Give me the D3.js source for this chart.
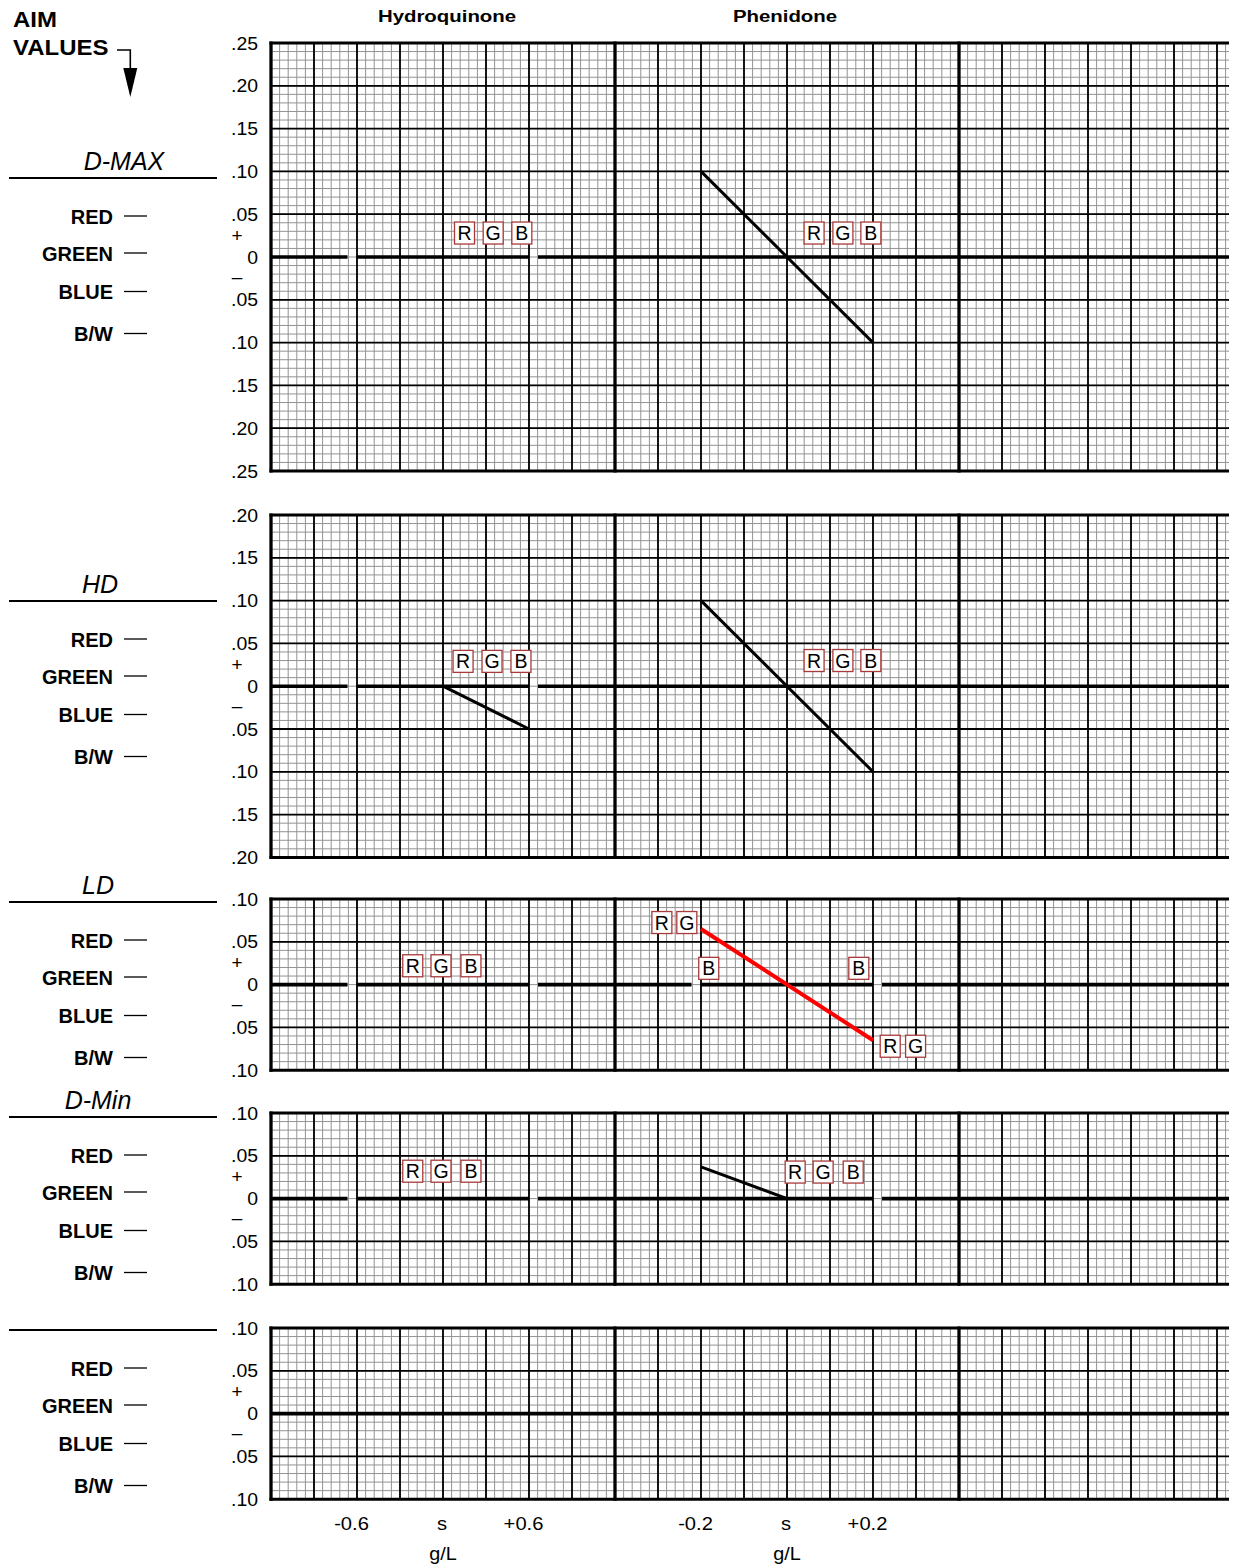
<!DOCTYPE html>
<html><head><meta charset="utf-8">
<script src="https://cdn.jsdelivr.net/npm/d3@7"></script>
<style>
html,body{margin:0;padding:0;background:#fff;}
svg{display:block;}
text{font-family:"Liberation Sans",Arial,Helvetica,sans-serif;fill:#000;}
</style>
</head><body>
<svg id="chart" width="1235" height="1568"></svg>
<script>
// ---------------- DATA ----------------
const columnTitles = ["Hydroquinone", "Phenidone"];
const panelNames = ["D-MAX", "HD", "LD", "D-Min", ""];
const panelExtents = [0.25, 0.20, 0.10, 0.10, 0.10];
const channelLabels = ["RED", "GREEN", "BLUE", "B/W"];
const hydroTicks = [-0.6, 0, 0.6];
const hydroTickLabels = ["-0.6", "s", "+0.6"];
const phenTicks = [-0.2, 0, 0.2];
const phenTickLabels = ["-0.2", "s", "+0.2"];
const unitLabel = "g/L";
const aimTitle = ["AIM", "VALUES"];

const aimLines = [
  {panel: 0, agent: "phen",  color: "black", points: [[-0.2, 0.10], [0.2, -0.10]]},
  {panel: 1, agent: "hydro", color: "black", points: [[0, 0], [0.6, -0.05]]},
  {panel: 1, agent: "phen",  color: "black", points: [[-0.2, 0.10], [0.2, -0.10]]},
  {panel: 2, agent: "phen",  color: "red",   points: [[-0.2, 0.065], [0.2, -0.065]]},
  {panel: 3, agent: "phen",  color: "black", points: [[-0.2, 0.037], [0, 0]]}
];

const rgbMarkers = [
  {panel: 0, agent: "hydro", x: 0.15,   y: 0.028, label: "R"},
  {panel: 0, agent: "hydro", x: 0.35,   y: 0.028, label: "G"},
  {panel: 0, agent: "hydro", x: 0.55,   y: 0.028, label: "B"},
  {panel: 0, agent: "phen",  x: 0.063,  y: 0.028, label: "R"},
  {panel: 0, agent: "phen",  x: 0.130,  y: 0.028, label: "G"},
  {panel: 0, agent: "phen",  x: 0.195,  y: 0.028, label: "B"},
  {panel: 1, agent: "hydro", x: 0.14,   y: 0.029, label: "R"},
  {panel: 1, agent: "hydro", x: 0.342,  y: 0.029, label: "G"},
  {panel: 1, agent: "hydro", x: 0.544,  y: 0.029, label: "B"},
  {panel: 1, agent: "phen",  x: 0.063,  y: 0.030, label: "R"},
  {panel: 1, agent: "phen",  x: 0.130,  y: 0.030, label: "G"},
  {panel: 1, agent: "phen",  x: 0.195,  y: 0.030, label: "B"},
  {panel: 2, agent: "hydro", x: -0.211, y: 0.022, label: "R"},
  {panel: 2, agent: "hydro", x: -0.014, y: 0.022, label: "G"},
  {panel: 2, agent: "hydro", x: 0.195,  y: 0.022, label: "B"},
  {panel: 2, agent: "phen",  x: -0.291, y: 0.0725, label: "R"},
  {panel: 2, agent: "phen",  x: -0.233, y: 0.0725, label: "G"},
  {panel: 2, agent: "phen",  x: -0.182, y: 0.019, label: "B"},
  {panel: 2, agent: "phen",  x: 0.167,  y: 0.019, label: "B"},
  {panel: 2, agent: "phen",  x: 0.240,  y: -0.072, label: "R"},
  {panel: 2, agent: "phen",  x: 0.299,  y: -0.072, label: "G"},
  {panel: 3, agent: "hydro", x: -0.211, y: 0.032, label: "R"},
  {panel: 3, agent: "hydro", x: -0.014, y: 0.032, label: "G"},
  {panel: 3, agent: "hydro", x: 0.195,  y: 0.032, label: "B"},
  {panel: 3, agent: "phen",  x: 0.019,  y: 0.031, label: "R"},
  {panel: 3, agent: "phen",  x: 0.084,  y: 0.031, label: "G"},
  {panel: 3, agent: "phen",  x: 0.154,  y: 0.031, label: "B"}
];

const zeroBreaks = [
  {panel: 0, agent: "hydro", x: -0.6}, {panel: 0, agent: "hydro", x: 0.6},
  {panel: 1, agent: "hydro", x: -0.6}, {panel: 1, agent: "hydro", x: 0.6},
  {panel: 2, agent: "hydro", x: -0.6}, {panel: 2, agent: "hydro", x: 0.6},
  {panel: 2, agent: "phen",  x: -0.2}, {panel: 2, agent: "phen",  x: 0.2},
  {panel: 3, agent: "hydro", x: -0.6}, {panel: 3, agent: "hydro", x: 0.6},
  {panel: 3, agent: "phen",  x: 0.2}
];

// ---------------- LAYOUT ----------------
const L = {
  left: 271, right: 1229, colW: 43, unit: 42.8,
  panelTops: [43, 515, 899, 1113, 1328],
  headerY: [178, 601, 902, 1117, 1330],
  headerTitleX: [124, 100, 98, 98, 98],
  labelOffsets: [38.5, 75.5, 114, 156]
};
const FONT = '"Liberation Sans",Arial,Helvetica,sans-serif';

const svg = d3.select("#chart");
svg.append("rect").attr("width", 1235).attr("height", 1568).attr("fill", "#fff");

const nCols = (L.right - L.left) / L.colW;
const xCol = d3.scaleLinear().domain([0, nCols]).range([L.left, L.right]);
const hydroX = d3.scaleLinear().domain([-1.2, 1.2]).range([xCol(0), xCol(8)]);
const phenX = d3.scaleLinear().domain([-0.4, 0.4]).range([xCol(8), xCol(16)]);
const xFor = a => a === "hydro" ? hydroX : phenX;

const defs = svg.append("defs");

// ---------- top-left title ----------
const titleG = svg.append("g");
titleG.selectAll("text.aim").data(aimTitle).join("text")
  .attr("class", "aim")
  .attr("transform", (d, i) => `translate(13,${i === 0 ? 26.5 : 55}) scale(1.09,1)`)
  .attr("font-size", 22).attr("font-weight", "bold").text(d => d);
titleG.append("path").attr("d", "M117,50 H130.3 V70").attr("fill", "none")
  .attr("stroke", "#000").attr("stroke-width", 1.6);
titleG.append("path").attr("d", "M123.3,68 L137.3,68 L130.3,97 Z").attr("fill", "#000");

// ---------- column titles ----------
const colTitleX = [hydroX(0) + 4, phenX(0) - 2];
svg.selectAll("text.coltitle").data(columnTitles).join("text")
  .attr("class", "coltitle")
  .attr("transform", (d, i) => `translate(${colTitleX[i]},22) scale(1.2,1)`)
  .attr("text-anchor", "middle").attr("font-size", 17).attr("font-weight", "bold")
  .text(d => d);

// ---------- panels ----------
panelExtents.forEach((ext, pi) => {
  const top = L.panelTops[pi];
  const bottom = top + (2 * ext / 0.05) * L.unit;
  const y = d3.scaleLinear().domain([-ext, ext]).range([bottom, top]);
  const g = svg.append("g").attr("class", "panel");

  const clipId = "clip" + pi;
  defs.append("clipPath").attr("id", clipId).append("rect")
    .attr("x", L.left - 3).attr("y", top - 3)
    .attr("width", L.right - L.left + 3).attr("height", bottom - top + 6);
  const grid = g.append("g").attr("clip-path", `url(#${clipId})`);

  // minor grid
  const minorX = d3.range(0, nCols * 5 + 1).map(k => xCol(k / 5));
  grid.selectAll("line.mv").data(minorX).join("line").attr("class", "mv")
    .attr("x1", d => d).attr("x2", d => d).attr("y1", top).attr("y2", bottom)
    .attr("stroke", "#939393").attr("stroke-width", 1);
  const minorY = d3.range(-Math.round(ext * 100), Math.round(ext * 100) + 1).map(k => k / 100);
  grid.selectAll("line.mh").data(minorY).join("line").attr("class", "mh")
    .attr("x1", L.left).attr("x2", L.right).attr("y1", d => y(d)).attr("y2", d => y(d))
    .attr("stroke", "#939393").attr("stroke-width", 1);

  // major grid
  const majorX = d3.range(1, Math.floor(nCols) + 1).filter(c => c !== 8 && c !== 16);
  grid.selectAll("line.Mv").data(majorX).join("line").attr("class", "Mv")
    .attr("x1", d => xCol(d)).attr("x2", d => xCol(d)).attr("y1", top).attr("y2", bottom)
    .attr("stroke", "#000").attr("stroke-width", 1.8);
  const majorY = d3.range(-Math.round(ext / 0.05) + 1, Math.round(ext / 0.05))
    .filter(k => k !== 0).map(k => k * 0.05);
  grid.selectAll("line.Mh").data(majorY).join("line").attr("class", "Mh")
    .attr("x1", L.left).attr("x2", L.right).attr("y1", d => y(d)).attr("y2", d => y(d))
    .attr("stroke", "#000").attr("stroke-width", 1.8);

  // heavy verticals
  grid.selectAll("line.Hv").data([0, 8, 16]).join("line").attr("class", "Hv")
    .attr("x1", d => xCol(d)).attr("x2", d => xCol(d)).attr("y1", top - 1.5).attr("y2", bottom + 1.5)
    .attr("stroke", "#000").attr("stroke-width", 3.3);
  // top / bottom borders
  grid.selectAll("line.border").data([ext, -ext]).join("line").attr("class", "border")
    .attr("x1", L.left - 1.5).attr("x2", L.right).attr("y1", d => y(d)).attr("y2", d => y(d))
    .attr("stroke", "#000").attr("stroke-width", 3);

  // zero line with breaks
  const brk = zeroBreaks.filter(b => b.panel === pi).map(b => {
    const px = xFor(b.agent)(b.x);
    return b.x < 0 ? [px - 9.5, px - 0.3] : [px, px + 9];
  }).sort((a, b) => a[0] - b[0]);
  const segs = [];
  let cur = L.left;
  brk.forEach(b => { segs.push([cur, b[0]]); cur = b[1]; });
  segs.push([cur, L.right]);
  grid.selectAll("line.zero").data(segs).join("line").attr("class", "zero")
    .attr("x1", d => d[0]).attr("x2", d => d[1]).attr("y1", y(0)).attr("y2", y(0))
    .attr("stroke", "#000").attr("stroke-width", 3.6);

  // aim lines
  const lineGen = d3.line();
  g.selectAll("path.aim").data(aimLines.filter(l => l.panel === pi)).join("path")
    .attr("class", "aim")
    .attr("d", l => lineGen(l.points.map(p => [xFor(l.agent)(p[0]), y(p[1])])))
    .attr("fill", "none")
    .attr("stroke", l => l.color === "red" ? "#ff0000" : "#000")
    .attr("stroke-width", l => l.color === "red" ? 4 : 3);

  // RGB markers
  const mk = g.selectAll("g.mk").data(rgbMarkers.filter(m => m.panel === pi)).join("g")
    .attr("class", "mk")
    .attr("transform", m => `translate(${xFor(m.agent)(m.x)},${y(m.y)})`);
  mk.append("rect").attr("x", -10).attr("y", -11).attr("width", 20).attr("height", 22)
    .attr("fill", "#fff").attr("stroke", "#a83a3a").attr("stroke-width", 1.3);
  mk.append("text").attr("text-anchor", "middle").attr("dy", "0.36em")
    .attr("font-size", 19.5).text(m => m.label);

  // y axis labels
  const yTicks = d3.range(-Math.round(ext / 0.05), Math.round(ext / 0.05) + 1).map(k => k * 0.05);
  const yAxis = d3.axisLeft(y).tickValues(yTicks).tickSize(0).tickPadding(0)
    .tickFormat(v => Math.abs(v) < 1e-9 ? "0" : d3.format(".2f")(Math.abs(v)).slice(1));
  const ya = g.append("g").attr("transform", "translate(258,0)").call(yAxis);
  ya.select(".domain").remove();
  ya.selectAll("text").attr("font-family", FONT).attr("font-size", 18).attr("fill", "#000")
    .attr("x", 0).attr("dy", "0.34em").attr("transform", "scale(1.08,1)");
  g.append("text").attr("x", 237).attr("y", y(0) - 22).attr("dy", "0.36em")
    .attr("text-anchor", "middle").attr("font-size", 19).text("+");
  g.append("text").attr("x", 237).attr("y", y(0) + 19).attr("dy", "0.36em")
    .attr("text-anchor", "middle").attr("font-size", 19).text("\u2013");

  // left header
  const hy = L.headerY[pi];
  g.append("line").attr("x1", 9).attr("x2", 217).attr("y1", hy).attr("y2", hy)
    .attr("stroke", "#000").attr("stroke-width", 1.8);
  if (panelNames[pi]) {
    g.append("text").attr("x", L.headerTitleX[pi]).attr("y", hy - 8)
      .attr("text-anchor", "middle").attr("font-size", 25).attr("font-style", "italic")
      .text(panelNames[pi]);
  }
  channelLabels.forEach((lab, li) => {
    const cy = hy + L.labelOffsets[li];
    g.append("text").attr("x", 113).attr("y", cy).attr("dy", "0.36em")
      .attr("text-anchor", "end").attr("font-size", 20).attr("font-weight", "bold").text(lab);
    g.append("line").attr("x1", 124).attr("x2", 147).attr("y1", cy - 0.5).attr("y2", cy - 0.5)
      .attr("stroke", "#000").attr("stroke-width", 1.3);
  });
});

// ---------- bottom axes ----------
function bottomAxis(scale, ticks, labels) {
  const ax = d3.axisBottom(scale).tickValues(ticks).tickSize(0).tickPadding(0)
    .tickFormat((d, i) => labels[i]);
  const a = svg.append("g").attr("transform", "translate(0,1517)").call(ax);
  a.select(".domain").remove();
  a.selectAll("text").attr("font-family", FONT).attr("font-size", 18).attr("fill", "#000")
    .attr("dy", "0.72em")
    .attr("transform", (d, i) => `translate(${labels[i] === "s" ? -1.5 : -6},0) scale(1.12,1)`);
  svg.append("text").attr("x", scale(0)).attr("y", 1560).attr("text-anchor", "middle")
    .attr("font-size", 18).attr("transform", `translate(${scale(0)},0) scale(1.1,1) translate(${-scale(0)},0)`)
    .text(unitLabel);
}
bottomAxis(hydroX, hydroTicks, hydroTickLabels);
bottomAxis(phenX, phenTicks, phenTickLabels);
</script>
</body></html>
